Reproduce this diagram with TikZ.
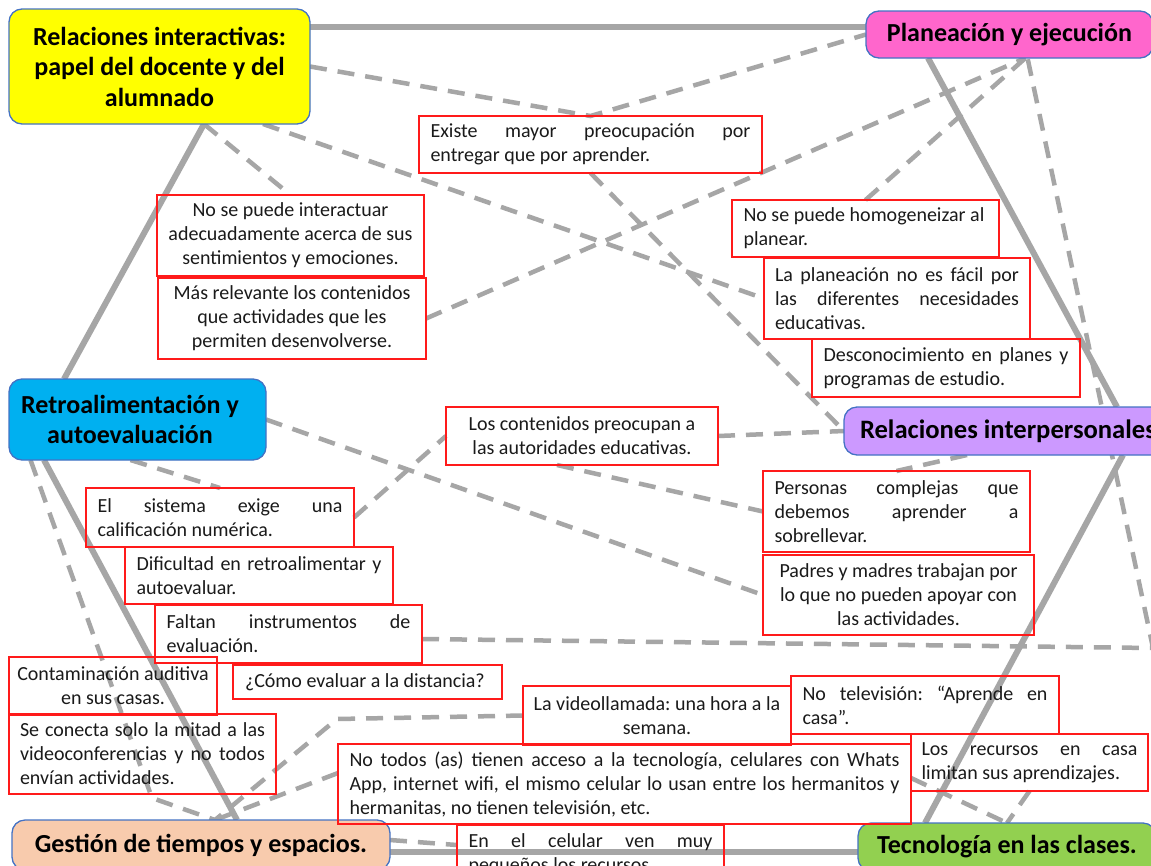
\documentclass[tikz,border=0pt]{standalone}
\usepackage{fontspec}
\setmainfont{Carlito}
\usetikzlibrary{calc}
\setlength{\parindent}{0pt}
\frenchspacing
\definecolor{hexgray}{HTML}{A6A6A6}
\definecolor{hdrborder}{HTML}{4472C4}
\definecolor{cyellow}{HTML}{FFFF00}
\definecolor{cpink}{HTML}{FF66CC}
\definecolor{cblue}{HTML}{00B0F0}
\definecolor{cpurple}{HTML}{CC99FF}
\definecolor{cpeach}{HTML}{F8CBAD}
\definecolor{cgreen}{HTML}{92D050}
\definecolor{boxred}{HTML}{FF1A1A}
\definecolor{txt}{HTML}{1A1A1A}
\newcommand\jl[2]{\makebox[#1pt][s]{#2}}
\pgfdeclarelayer{back}
\pgfdeclarelayer{bg}
\pgfsetlayers{back,bg,main}
\tikzset{
  hdr/.style={draw=hdrborder, line width=1.3pt, rounded corners=13pt, inner sep=0pt, outer sep=0pt, align=flush center, font=\bfseries\fontsize{26}{30.5}\selectfont, text=black},
  hdrtext/.style={inner sep=0pt, align=flush center, font=\bfseries\fontsize{26}{30}\selectfont, text=black},
  rbox/.style={draw=boxred, line width=1.6pt, inner sep=0pt, outer sep=0pt, font=\fontsize{20}{24}\selectfont, text=txt},
  lbox/.style={rbox, align=flush left},
  cbox/.style={rbox, align=flush center},
  hexline/.style={draw=hexgray, line width=6pt},
  dline/.style={draw=hexgray, line width=4.5pt, dash pattern=on 17pt off 11pt},
}
\begin{document}
\begin{tikzpicture}[x=1pt,y=-1pt]
\useasboundingbox (0,0) rectangle (1151,865);
\begin{pgfonlayer}{back}
\fill[white] (0,0) rectangle (1151,865);
\end{pgfonlayer}
\clip (0,0) rectangle (1151,865);

% main topics
\node[hdr, fill=cyellow, minimum width=301pt, minimum height=115pt, text width=295pt] (yellow) at (159.5,66.5) {Relaciones interactivas:\\papel del docente y del\\alumnado};
\node[hdr, fill=cpink, minimum width=287pt, minimum height=47pt] (pink) at (1009.5,34.5) {Planeación y ejecución};
\node[hdr, fill=cblue, minimum width=257pt, minimum height=81pt] (blue) at (137.5,419.5) {};
\node[hdrtext] (bluetext) at (130,419.5) {Retroalimentación y\\autoevaluación};
\node[hdr, fill=cpurple, minimum width=332pt, minimum height=48pt, text width=300pt, align=flush left, font=\bfseries\fontsize{26.6}{30.5}\selectfont] (purple) at (1010,431) {\mbox{Relaciones interpersonales}};
\node[hdr, fill=cpeach, minimum width=378pt, minimum height=50pt] (peach) at (201,845) {Gestión de tiempos y espacios.};
\node[hdr, fill=cgreen, minimum width=298pt, minimum height=48pt] (green) at (1007,847) {Tecnología en las clases.};

% red boxes
\node[lbox, minimum width=343pt, minimum height=57pt, text width=320pt] (existe) at (590.5,144.5) {\jl{320}{Existe mayor preocupación por}\\\mbox{entregar que por aprender.}};
\node[cbox, minimum width=267pt, minimum height=81pt, text width=263pt] (interactuar) at (290.5,235.5) {\mbox{No se puede interactuar}\\\mbox{adecuadamente acerca de sus}\\\mbox{sentimientos y emociones.}};
\node[cbox, minimum width=268pt, minimum height=81pt, text width=264pt] (relevante) at (292,318.5) {\mbox{Más relevante los contenidos}\\\mbox{que actividades que les}\\\mbox{permiten desenvolverse.}};
\node[lbox, minimum width=267pt, minimum height=57pt, text width=244pt] (homog) at (865.5,228.5) {\mbox{No se puede homogeneizar al}\\\mbox{planear.}};
\node[lbox, minimum width=266pt, minimum height=81pt, text width=244pt] (planeacion) at (897,298.5) {\jl{244}{La planeación no es fácil por}\\\jl{244}{las diferentes necesidades}\\\mbox{educativas.}};
\node[lbox, minimum width=268pt, minimum height=58pt, text width=245pt] (descon) at (946,368) {\jl{245}{Desconocimiento en planes y}\\\mbox{programas de estudio.}};
\node[cbox, minimum width=272pt, minimum height=58pt, text width=268pt] (contenidos) at (582,436) {\mbox{Los contenidos preocupan a}\\\mbox{las autoridades educativas.}};
\node[lbox, minimum width=267pt, minimum height=81pt, text width=244pt] (personas) at (896.5,511.5) {\jl{244}{Personas complejas que}\\\jl{244}{debemos aprender a}\\\mbox{sobrellevar.}};
\node[cbox, minimum width=271pt, minimum height=80pt, text width=267pt] (padres) at (898.5,595) {\mbox{Padres y madres trabajan por}\\\mbox{lo que no pueden apoyar con}\\\mbox{las actividades.}};
\node[lbox, minimum width=268pt, minimum height=59pt, text width=245pt] (sistema) at (220,517.5) {\jl{245}{El sistema exige una}\\\mbox{calificación numérica.}};
\node[lbox, minimum width=268pt, minimum height=57pt, text width=245pt] (dificultad) at (259,575.5) {\jl{245}{Dificultad en retroalimentar y}\\\mbox{autoevaluar.}};
\node[lbox, minimum width=267pt, minimum height=58pt, text width=244pt] (faltan) at (288.5,634) {\jl{244}{Faltan instrumentos de}\\\mbox{evaluación.}};
\node[cbox, minimum width=208pt, minimum height=58pt, text width=204pt] (contam) at (113,686) {\mbox{Contaminación auditiva}\\\mbox{en sus casas.}};
\node[lbox, minimum width=269pt, minimum height=34pt, text width=245pt] (como) at (367.5,682) {\mbox{¿Cómo evaluar a la distancia?}};
\node[lbox, minimum width=267pt, minimum height=80pt, text width=245pt] (seconecta) at (142.5,754) {\jl{245}{Se conecta solo la mitad a las}\\\jl{245}{videoconferencias y no todos}\\\mbox{envían actividades.}};
\node[cbox, minimum width=268pt, minimum height=59pt, text width=264pt] (videollamada) at (657,715.5) {\mbox{La videollamada: una hora a la}\\\mbox{semana.}};
\node[lbox, minimum width=268pt, minimum height=58pt, text width=245pt] (notelev) at (925,705) {\jl{245}{No televisión: “Aprende en}\\\mbox{casa”.}};
\node[lbox, minimum width=573pt, minimum height=80pt, text width=550pt] (notodos) at (624.5,784) {\jl{550}{No todos (as) tienen acceso a la tecnología, celulares con Whats}\\\jl{550}{App, internet wifi, el mismo celular lo usan entre los hermanitos y}\\\mbox{hermanitas, no tienen televisión, etc.}};
\node[lbox, minimum width=237pt, minimum height=57pt, text width=216pt] (recursos) at (1029.5,762.5) {\jl{216}{Los recursos en casa}\\\mbox{limitan sus aprendizajes.}};
\node[lbox, minimum width=267pt, minimum height=58pt, text width=244pt] (celular) at (590.5,854) {\jl{244}{En el celular ven muy}\\\mbox{pequeños los recursos.}};

% free coordinates
\coordinate (gR) at (1153,648);
\coordinate (bendO) at (152,798);
\coordinate (bendV) at (337,719);

\begin{pgfonlayer}{bg}
% hexagon
\draw[hexline] ([yshift=-18pt]yellow.north east) -- ([yshift=-16pt]pink.north west);
\draw[hexline] ([xshift=44.5pt]yellow.south) -- ([xshift=-73.5pt]blue.north);
\draw[hexline] ([xshift=-93.5pt]blue.south) -- ([xshift=36pt]peach.north);
\draw[hexline] ([yshift=-7pt]peach.east) -- ([yshift=-5pt]green.west);
\draw[hexline] ([xshift=-82pt]green.north) -- ([xshift=113pt]purple.south);
\draw[hexline] ([xshift=107pt]purple.north) -- ([xshift=-81.5pt]pink.south);
% dashed connectors
\draw[dline] (yellow.east) -- (existe.north) -- (pink.west);
\draw[dline] ([xshift=44.5pt]yellow.south) -- (interactuar.north);
\draw[dline] ([xshift=103.5pt]yellow.south) -- (planeacion.west);
\draw[dline] (existe.south) -- (purple.west);
\draw[dline] (relevante.east) -- ([xshift=16pt]pink.south);
\draw[dline] (homog.north) -- ([xshift=16pt]pink.south);
\draw[dline] ([yshift=-5pt]faltan.east) -- (gR) -- ([xshift=18pt]pink.south);
\draw[dline] (contenidos.east) -- (purple.west);
\draw[dline] ([xshift=-43pt]purple.south) -- (personas.north);
\draw[dline] (sistema.east) -- (contenidos.west);
\draw[dline] (blue.east) -- (padres.west);
\draw[dline] ([xshift=-25pt]contenidos.south) -- (personas.west);
\draw[dline] ([xshift=-7pt]blue.south) -- (sistema.north);
\draw[dline] ([xshift=-107pt]blue.south) -- (bendO) -- ([xshift=14pt]peach.north);
\draw[dline] (videollamada.west) -- (bendV) -- ([xshift=14pt]peach.north);
\draw[dline] ([yshift=11pt]notodos.west) -- ([xshift=14pt]peach.north);
\draw[dline] ([yshift=5pt]peach.east) -- ([yshift=9pt]celular.west);
\draw[dline] ([yshift=6pt]notodos.east) -- (green.north);
\draw[dline] (recursos.south) -- (green.north);
\end{pgfonlayer}
\end{tikzpicture}
\end{document}
